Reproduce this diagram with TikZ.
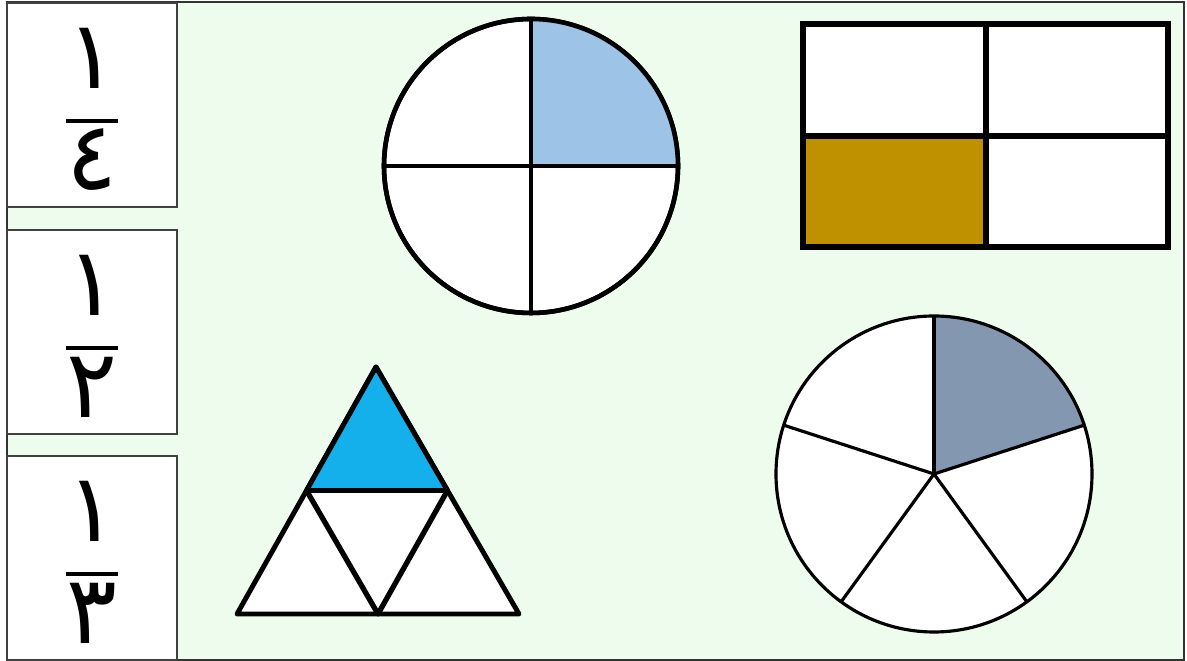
\documentclass[tikz,border=0pt]{standalone}
\usepackage{fontspec}
\newfontfamily\arabicfont[Script=Arabic]{DejaVu Sans}
\usetikzlibrary{calc}

\definecolor{paleGreen}{RGB}{238,252,238}
\definecolor{quarterBlue}{RGB}{157,195,230}
\definecolor{darkGold}{RGB}{191,144,0}
\definecolor{skyBlue}{RGB}{20,176,235}
\definecolor{slateBlue}{RGB}{132,151,176}

\begin{document}
\begin{tikzpicture}[x=0.01cm, y=0.01cm,
  numbox/.style={draw=black!75, fill=white, line width=0.5pt},
  digit/.style={font=\arabicfont\fontsize{27}{27}\selectfont, inner sep=0pt},
  fracbar/.style={line width=1.4pt},
  piece/.style={draw=black, line width=1.3pt, fill=white}]

\useasboundingbox (0,0) rectangle (1187,661);

% Green sheet
\filldraw[fill=paleGreen, draw=black!80, line width=0.6pt] (7,1) rectangle (1184,659);

% Fraction cards on the left
\foreach \top/\den/\nm in {658/٤/a, 431/٢/b, 205/٣/c} {
    \draw[numbox] (7,\top) rectangle (177,{\top-204});
    \node[digit] (num\nm) at (92,{\top-55}) {١};
    \node[digit] (den\nm) at (92,{\top-157}) {\den};
    \draw[fracbar] (66,{\top-118}) -- (118,{\top-118});
}

% Circle in quarters
\coordinate (qc) at (531,495);
\draw[piece] (qc) circle (147);
\fill[quarterBlue] (qc) -- ++(147,0) arc[start angle=0, end angle=90, radius=147] -- cycle;
\draw[line width=1.3pt] (qc) circle (147);
\draw[line width=1.3pt] ($(qc)+(-147,0)$) -- ($(qc)+(147,0)$);
\draw[line width=1.3pt] ($(qc)+(0,-147)$) -- ($(qc)+(0,147)$);

% Rectangle in quarters
\fill[white] (803,637) rectangle (1168,414);
\fill[darkGold] (803,525) rectangle (986,414);
\draw[line width=1.7pt] (803,637) rectangle (1168,414);
\draw[line width=1.5pt] (986,637) -- (986,414);
\draw[line width=1.5pt] (803,525) -- (1168,525);

% Triangle split into four
\coordinate (ta) at (376,294);
\coordinate (tl) at (237,47);
\coordinate (tr) at (519,47);
\coordinate (ml) at ($(ta)!0.5!(tl)$);
\coordinate (mr) at ($(ta)!0.5!(tr)$);
\coordinate (mb) at ($(tl)!0.5!(tr)$);
\filldraw[piece, line width=1.4pt, line join=round] (tl) -- (tr) -- (ta) -- cycle;
\filldraw[piece, line width=1.4pt, fill=skyBlue, line join=round] (ta) -- (ml) -- (mr) -- cycle;
\draw[line width=1.5pt, line join=round] (ml) -- (mb) -- (mr);

% Circle in fifths
\coordinate (pc) at (934,187);
\fill[white] (pc) circle (158);
\fill[slateBlue] (pc) -- ++(18:158) arc[start angle=18, end angle=90, radius=158] -- cycle;
\draw[line width=0.9pt] (pc) circle (158);
\foreach \ang in {90,18,-54,-126,162} {
    \draw[line width=0.9pt] (pc) -- ++(\ang:158);
}

\end{tikzpicture}
\end{document}
